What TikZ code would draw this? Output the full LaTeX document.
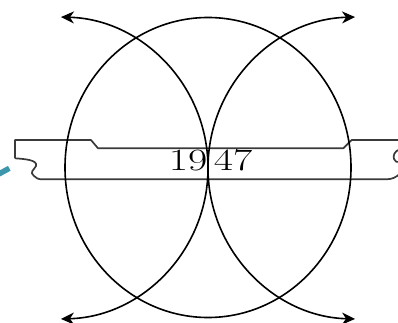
\documentclass[tikz,border=0pt]{standalone}
\usepackage{graphicx}
\usetikzlibrary{arrows.meta}
\definecolor{tealc}{HTML}{3C97AD}
\definecolor{bannerc}{HTML}{3A3A3A}
\tikzset{
  ring/.style={line width=1.6pt, black},
  arc arrow/.style={line width=1.6pt, black, {Stealth[length=13pt,width=12pt,inset=4pt]}-{Stealth[length=13pt,width=12pt,inset=4pt]}},
  banner/.style={line width=1.7pt, bannerc, line join=round},
  year/.style={font=\fontsize{31}{32}\selectfont, inner sep=0pt}
}
\begin{document}
\begin{tikzpicture}[x=1pt,y=1pt]
\clip (0,0) rectangle (398,322);
% teal fragment
\draw[tealc, line width=5.5pt] (-3,147) -- (9.3,153.7);
% banner
\draw[banner] (15,163.7) -- (15,182) -- (91,182) -- (98,173.7) -- (343.3,173.7) -- (351.7,182) -- (402,182);
\draw[banner] (15,163.7) .. controls (25,163) and (38,162) .. (36,156)
  .. controls (34,152) and (29,150) .. (34,146)
  .. controls (36,144) and (38,142.7) .. (42,142.7)
  -- (386,142.7) .. controls (392,142.7) and (396,144.5) .. (400,148.5);
\draw[banner] (400,172.7) .. controls (394,171) and (393,166) .. (394,163)
  .. controls (395,160) and (397,159.5) .. (400,160);
% outer ring
\draw[ring] (208,154.5) ellipse [x radius=143, y radius=150];
% inner arcs with arrows
\draw[arc arrow] (57,154) ++(-88.5:151) arc[start angle=-88.5, end angle=88.5, radius=151];
\draw[arc arrow] (359,154) ++(91.5:151) arc[start angle=91.5, end angle=268.5, radius=151];
% year
\node[year, anchor=base east] (y19) at (207.5,151.3) {\scalebox{1.35}[1]{19}};
\node[year, anchor=base west] (y47) at (213.7,151.3) {\scalebox{1.35}[1]{47}};
\end{tikzpicture}
\end{document}
